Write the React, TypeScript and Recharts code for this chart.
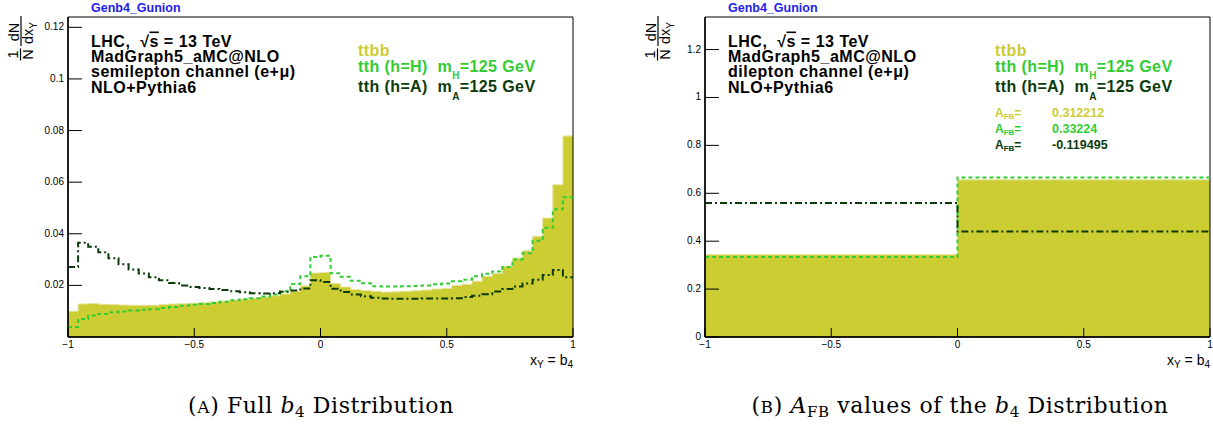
import React from 'react';
import { ComposedChart, Area, Line, XAxis, YAxis, ReferenceArea } from 'recharts';

// ---------- data ----------
const BIN_LOW = -1;
const BIN_WIDTH = 0.04;

const ttbbFull = [
  0.0100, 0.0128, 0.0130, 0.0127, 0.0126, 0.0124, 0.0123, 0.0123, 0.0123, 0.0126,
  0.0128, 0.0129, 0.0131, 0.0133, 0.0136, 0.0139, 0.0143, 0.0147, 0.0150, 0.0155,
  0.0160, 0.0167, 0.0177, 0.0198, 0.0248, 0.0250, 0.0207, 0.0194, 0.0184, 0.0180,
  0.0177, 0.0174, 0.0175, 0.0177, 0.0179, 0.0182, 0.0186, 0.0188, 0.0200, 0.0204,
  0.0216, 0.0235, 0.0246, 0.0274, 0.0306, 0.0334, 0.0390, 0.0461, 0.0590, 0.0779,
];
const tthHFull = [
  0.0039, 0.0070, 0.0083, 0.0089, 0.0096, 0.0099, 0.0103, 0.0106, 0.0108, 0.0112,
  0.0116, 0.0121, 0.0125, 0.0128, 0.0132, 0.0137, 0.0142, 0.0146, 0.0150, 0.0157,
  0.0165, 0.0177, 0.0205, 0.0235, 0.0310, 0.0315, 0.0247, 0.0233, 0.0218, 0.0208,
  0.0197, 0.0196, 0.0196, 0.0197, 0.0198, 0.0200, 0.0204, 0.0207, 0.0216, 0.0222,
  0.0235, 0.0245, 0.0254, 0.0271, 0.0300, 0.0325, 0.0373, 0.0423, 0.0495, 0.0542,
];
const tthAFull = [
  0.0271, 0.0365, 0.0350, 0.0328, 0.0305, 0.0282, 0.0262, 0.0246, 0.0232, 0.0220,
  0.0209, 0.0200, 0.0194, 0.0190, 0.0186, 0.0182, 0.0177, 0.0173, 0.0170, 0.0169,
  0.0170, 0.0175, 0.0180, 0.0188, 0.0220, 0.0213, 0.0187, 0.0174, 0.0165, 0.0158,
  0.0152, 0.0149, 0.0148, 0.0148, 0.0148, 0.0149, 0.0149, 0.0149, 0.0150, 0.0155,
  0.0160, 0.0166, 0.0176, 0.0186, 0.0196, 0.0207, 0.0222, 0.0240, 0.0260, 0.0232,
];

const afbEdges = [-1, 0, 1];
const ttbbAfb = [0.343894, 0.656106];
const tthHAfb = [0.33388, 0.66612];
const tthAAfb = [0.559748, 0.440252];
const afbValues = ['0.312212', '0.33224', '-0.119495'];

const xTicks = [-1, -0.5, 0, 0.5, 1];
const yTicksFull = [0.02, 0.04, 0.06, 0.08, 0.1, 0.12];
const yTicksAfb = [0, 0.2, 0.4, 0.6, 0.8, 1, 1.2];

// ---------- build step data ----------
const fullEdges = Array.from({ length: ttbbFull.length + 1 }, (_, i) =>
  Number((BIN_LOW + i * BIN_WIDTH).toFixed(4))
);

function stepData(edges: number[], a: number[], h: number[], d: number[]) {
  return edges.map((x, i) => {
    const j = Math.min(i, a.length - 1);
    return { x, ttbb: a[j], H: h[j], A: d[j] };
  });
}

const fullData = stepData(fullEdges, ttbbFull, tthHFull, tthAFull);
const afbData = stepData(afbEdges, ttbbAfb, tthHAfb, tthAAfb);

// ---------- styles ----------
const SANS = '"Liberation Sans", Arial, Helvetica, sans-serif';
const SERIF = '"DejaVu Serif", "Liberation Serif", serif';
const YELLOW = '#cccc33';
const GREEN = '#33cc33';
const DARK = '#0b3b0b';
const BLUE = '#2222ee';

const fmt = (v: number) => (v < 0 ? '\u2212' + String(-v) : String(v));

const XTick = (props: any) => {
  const { x, y, payload } = props;
  return (
    <g>
      <line x1={x} x2={x} y1={y} y2={y - 9} stroke="#000" strokeWidth={1} />
      <text x={x} y={y + 11} textAnchor="middle" fontSize={10} fill="#000" fontFamily={SANS}>
        {fmt(payload.value)}
      </text>
    </g>
  );
};

const YTick = (props: any) => {
  const { x, y, payload } = props;
  return (
    <g>
      <line x1={x} x2={x + 14} y1={y} y2={y} stroke="#000" strokeWidth={1} />
      <text x={x - 4} y={y + 3} textAnchor="end" fontSize={10} fill="#000" fontFamily={SANS}>
        {fmt(payload.value)}
      </text>
    </g>
  );
};

function Panel(props: {
  data: any[];
  left: number;
  width: number;
  marginLeft: number;
  marginRight: number;
  yMax: number;
  yTicks: number[];
}) {
  const { data, left, width, marginLeft, marginRight, yMax, yTicks } = props;
  return (
    <div style={{ position: 'absolute', left, top: 0 }}>
      <ComposedChart
        width={width}
        height={428}
        data={data}
        margin={{ top: 17, right: marginRight, bottom: 61, left: marginLeft }}
      >
        <Area
          type="stepAfter"
          dataKey="ttbb"
          fill={YELLOW}
          fillOpacity={1}
          stroke="#e6e6a0"
          strokeWidth={1}
          dot={false}
          activeDot={false}
          isAnimationActive={false}
        />
        <Line
          type="stepAfter"
          dataKey="H"
          stroke={GREEN}
          strokeWidth={2}
          strokeDasharray="4 3"
          dot={false}
          activeDot={false}
          isAnimationActive={false}
        />
        <Line
          type="stepAfter"
          dataKey="A"
          stroke={DARK}
          strokeWidth={2}
          strokeDasharray="7 3 2 3"
          dot={false}
          activeDot={false}
          isAnimationActive={false}
        />
        <ReferenceArea x1={-1} x2={1} y1={0} y2={yMax} fill="none" stroke="#000" strokeWidth={1} />
        <XAxis
          dataKey="x"
          type="number"
          domain={[-1, 1]}
          ticks={xTicks}
          interval={0}
          tickSize={0}
          tickMargin={0}
          tickLine={false}
          axisLine={{ stroke: '#000', strokeWidth: 1.5 }}
          tick={<XTick />}
          height={30}
          allowDataOverflow
        />
        <YAxis
          type="number"
          domain={[0, yMax]}
          ticks={yTicks}
          interval={0}
          width={40}
          tickSize={0}
          tickMargin={0}
          tickLine={false}
          axisLine={{ stroke: '#000', strokeWidth: 1.5 }}
          tick={<YTick />}
          allowDataOverflow
        />
      </ComposedChart>
    </div>
  );
}

function YLabel({ dx }: { dx: number }) {
  return (
    <g transform={`translate(${dx},62) rotate(-90)`} fontFamily={SANS} fontSize={14.5} fill="#000">
      <text x={7.5} y={18} textAnchor="middle">1</text>
      <line x1={1.5} x2={13.5} y1={20.5} y2={20.5} stroke="#000" strokeWidth={1.2} />
      <text x={7.5} y={32.5} textAnchor="middle">N</text>
      <text x={30} y={19} textAnchor="middle">dN</text>
      <line x1={16} x2={46} y1={21} y2={21} stroke="#000" strokeWidth={1.2} />
      <text x={29} y={33} textAnchor="middle">
        dx<tspan fontSize={10} dy={3.5}>Y</tspan>
      </text>
    </g>
  );
}

function PanelText({ dx, channel, afb }: { dx: number; channel: string; afb: boolean }) {
  const lx = 91 + dx;
  const gx = 358 + dx;
  const afbColors = [YELLOW, GREEN, DARK];
  const afbY = [117, 133, 149];
  return (
    <g fontFamily={SANS}>
      <text x={lx} y={12} fontSize={12.5} fontWeight="bold" fill={BLUE}>Genb4_Gunion</text>
      <YLabel dx={dx} />
      <g fontSize={16} fontWeight="bold" fill="#000" letterSpacing={0.5}>
        <text x={lx} y={46.5} style={{ whiteSpace: 'pre' }}>
          {'LHC,  \u221A'}
          <tspan style={{ textDecoration: 'overline' }}>s</tspan>
          {' = 13 TeV'}
        </text>
        <text x={lx} y={61.7}>MadGraph5_aMC@NLO</text>
        <text x={lx} y={77}>{channel}</text>
        <text x={lx} y={92.5}>NLO+Pythia6</text>
      </g>
      <g fontSize={16} fontWeight="bold" letterSpacing={0.4}>
        <text x={gx} y={56} fill={YELLOW}>ttbb</text>
        <text x={gx} y={72.3} fill={GREEN} style={{ whiteSpace: 'pre' }}>
          {'tth (h=H)  m'}
          <tspan fontSize={10} dy={7}>H</tspan>
          <tspan dy={-7}>=125 GeV</tspan>
        </text>
        <text x={gx} y={91.7} fill={DARK} style={{ whiteSpace: 'pre' }}>
          {'tth (h=A)  m'}
          <tspan fontSize={10} dy={8}>A</tspan>
          <tspan dy={-8}>=125 GeV</tspan>
        </text>
      </g>
      {afb &&
        afbValues.map((v, i) => (
          <g key={i} fontSize={12} fontWeight="bold" fill={afbColors[i]}>
            <text x={gx} y={afbY[i]}>
              A<tspan fontSize={8} dy={2}>FB</tspan>
              <tspan dy={-2}>=</tspan>
            </text>
            <text x={gx + 57} y={afbY[i]} fontSize={12.5}>{v}</text>
          </g>
        ))}
      <text x={573 + dx} y={365} textAnchor="end" fontSize={14} fill="#000" style={{ whiteSpace: 'pre' }}>
        x<tspan fontSize={10} dy={3}>Y</tspan>
        <tspan dy={-3}>{' = b'}</tspan>
        <tspan fontSize={10} dy={3}>4</tspan>
      </text>
    </g>
  );
}

export default function App() {
  return (
    <div style={{ position: 'absolute', left: 0, top: 0, width: 1213, height: 428, background: '#fff' }}>
      <Panel data={fullData} left={0} width={600} marginLeft={28} marginRight={27} yMax={0.124} yTicks={yTicksFull} />
      <Panel data={afbData} left={600} width={613} marginLeft={65} marginRight={3} yMax={1.336} yTicks={yTicksAfb} />
      <svg
        width={1213}
        height={428}
        style={{ position: 'absolute', left: 0, top: 0, pointerEvents: 'none' }}
      >
        <PanelText dx={0} channel={'semilepton channel (e+\u03BC)'} afb={false} />
        <PanelText dx={637} channel={'dilepton channel (e+\u03BC)'} afb={true} />
        <g fontFamily={SERIF} fontSize={22} fill="#000" letterSpacing={0.6}>
          <text x={321} y={413} textAnchor="middle">
            (<tspan fontSize={17}>A</tspan>) Full <tspan fontStyle="italic">b</tspan>
            <tspan fontSize={15} dy={4}>4</tspan>
            <tspan dy={-4}> Distribution</tspan>
          </text>
          <text x={960} y={413} textAnchor="middle">
            (<tspan fontSize={17}>B</tspan>) <tspan fontStyle="italic">A</tspan>
            <tspan fontSize={15} dy={4}>FB</tspan>
            <tspan dy={-4}> values of the </tspan>
            <tspan fontStyle="italic">b</tspan>
            <tspan fontSize={15} dy={4}>4</tspan>
            <tspan dy={-4}> Distribution</tspan>
          </text>
        </g>
      </svg>
    </div>
  );
}
